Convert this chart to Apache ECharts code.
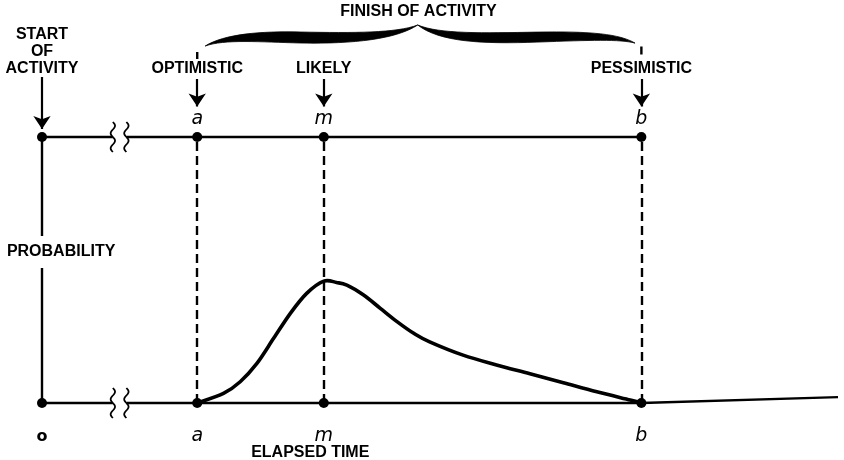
<!DOCTYPE html>
<html>
<head>
<meta charset="utf-8">
<script src="https://cdn.jsdelivr.net/npm/echarts@6/dist/echarts.min.js"></script>
<style>html,body{margin:0;background:#fff}#chart{width:844px;height:460px}</style>
</head>
<body>
<div id="chart"></div>
<script>
// events on the time axis: start, optimistic, likely, pessimistic
var eventNames = ['o', 'a', 'm', 'b'];
var eventTimes = [0, 19.5, 35.4, 75.3];
var estimateNames = ['OPTIMISTIC', 'LIKELY', 'PESSIMISTIC'];

// probability curve
var curveTime = [19.5, 22.8, 24.9, 27.0, 29.1, 31.2, 33.25, 35.4, 37.0, 38.3, 40.4, 42.5, 44.6, 46.7, 48.7, 52.9, 57.1, 61.3, 65.5, 69.7, 73.9, 75.3];
var curveProb = [0, 0.036, 0.080, 0.149, 0.243, 0.337, 0.412, 0.458, 0.453, 0.443, 0.406, 0.356, 0.306, 0.262, 0.230, 0.180, 0.143, 0.110, 0.076, 0.042, 0.011, 0];

var breakTimes = [8.9, 10.6];
var axisEnd = [100, 0.022];

var FONT = '"Liberation Sans", Arial, sans-serif';
var tA = eventTimes[1], tB = eventTimes[3];

var myChart = echarts.init(document.getElementById('chart'));

var curve = [];
for (var i = 0; i < curveTime.length; i++) {
    curve.push([curveTime[i], curveProb[i]]);
}

// solid axis lines (broken at the squiggles)
var solidLines = [
    {coords: [[0, 0], [breakTimes[0], 0]]},
    {coords: [[breakTimes[1], 0], [tB, 0], axisEnd]},
    {coords: [[0, 1], [breakTimes[0], 1]]},
    {coords: [[breakTimes[1], 1], [tB, 1]]},
    {coords: [[0, 0], [0, 1]]},
    {coords: [[tA, 1.29], [tA, 1.32]]},
    {coords: [[tB, 1.31], [tB, 1.34]]}
];

var dashedLines = [];
for (var i = 1; i < eventTimes.length; i++) {
    dashedLines.push({coords: [[eventTimes[i], 0], [eventTimes[i], 1]]});
}

var arrows = [{coords: [[0, 1.226], [0, 1.03]]}];
for (var i = 1; i < eventTimes.length; i++) {
    arrows.push({coords: [[eventTimes[i], 1.226], [eventTimes[i], 1.115]]});
}

var dots = [];
for (var i = 0; i < eventTimes.length; i++) {
    dots.push([eventTimes[i], 0]);
    dots.push([eventTimes[i], 1]);
}

var capsLabels = [
    {value: [0, 1.32], label: {formatter: 'START\nOF\nACTIVITY', lineHeight: 17}},
    {value: [2.4, 0.568], label: {formatter: 'PROBABILITY', backgroundColor: '#fff', padding: [8, 0]}},
    {value: [33.7, -0.186], label: {formatter: 'ELAPSED TIME'}},
    {value: [47.3, 1.47], label: {formatter: 'FINISH OF ACTIVITY'}}
];
for (var i = 0; i < estimateNames.length; i++) {
    capsLabels.push({value: [eventTimes[i + 1], 1.256], label: {formatter: estimateNames[i], backgroundColor: '#fff', padding: [2, 0]}});
}

var letterLabels = [];
for (var i = 1; i < eventNames.length; i++) {
    letterLabels.push({value: [eventTimes[i], 1.068], label: {formatter: eventNames[i]}});
    letterLabels.push({value: [eventTimes[i], -0.126], label: {formatter: eventNames[i]}});
}
letterLabels.push({value: [0, -0.126], label: {formatter: eventNames[0], fontStyle: 'normal', fontWeight: 'bold', fontSize: 16}});

// catmull-rom spline through the curve points
function renderCurve(params, api) {
    var pts = [];
    for (var i = 0; i < curve.length; i++) pts.push(api.coord(curve[i]));
    var d = 'M ' + pts[0][0] + ' ' + pts[0][1];
    for (var i = 0; i < pts.length - 1; i++) {
        var p0 = pts[i - 1] || pts[i], p1 = pts[i], p2 = pts[i + 1], p3 = pts[i + 2] || pts[i + 1];
        d += ' C ' + (p1[0] + (p2[0] - p0[0]) / 6) + ' ' + (p1[1] + (p2[1] - p0[1]) / 6) +
            ' ' + (p2[0] - (p3[0] - p1[0]) / 6) + ' ' + (p2[1] - (p3[1] - p1[1]) / 6) +
            ' ' + p2[0] + ' ' + p2[1];
    }
    return {type: 'path', shape: {pathData: d}, style: {fill: null, stroke: '#000', lineWidth: 3.6, lineJoin: 'round'}};
}

function renderBreak(params, api) {
    var c = api.coord([api.value(0), api.value(1)]);
    var pts = [];
    for (var k = 0; k <= 30; k++) {
        var dy = k - 15;
        pts.push([c[0] + 2.2 * Math.sin(dy / 15 * Math.PI * 2), c[1] + dy]);
    }
    return {type: 'polyline', shape: {points: pts}, style: {stroke: '#000', lineWidth: 1.8, fill: null}};
}

function renderBrace(params, api) {
    var pL = api.coord([api.value(0), api.value(1)]);
    var pT = api.coord([api.value(2), api.value(3)]);
    var pR = api.coord([api.value(4), api.value(5)]);
    function lx(f) { return pL[0] + f * (pT[0] - pL[0]); }
    function rx(f) { return pT[0] + f * (pR[0] - pT[0]); }
    var B = pL[1], T = pT[1], R = pR[1];
    var d = ['M', lx(0), B,
        'C', lx(.09), B - 12, lx(.26), B - 15, lx(.45), B - 14,
        'C', lx(.7), B - 13, lx(.9), B - 13, lx(1), T,
        'C', lx(.9), B - 7, lx(.7), B - 2, lx(.45), B - 3,
        'C', lx(.26), B - 4, lx(.09), B - 7, lx(0), B, 'Z',
        'M', rx(0), T,
        'C', rx(.1), R - 9, rx(.3), R - 10, rx(.55), R - 11,
        'C', rx(.8), R - 12, rx(.93), R - 9, rx(1), R,
        'C', rx(.93), R - 4, rx(.8), R - 3, rx(.55), R - 1,
        'C', rx(.3), R + 1, rx(.1), R - 1, rx(0), T, 'Z'].join(' ');
    return {type: 'path', shape: {pathData: d}, style: {fill: '#000', stroke: '#000', lineWidth: 0.8}};
}

var option = {
    backgroundColor: '#fff',
    animation: false,
    grid: {left: 2.2, right: 6, top: 4, bottom: 3.8},
    xAxis: {type: 'value', min: -5, max: 100, show: false},
    yAxis: {type: 'value', min: -0.2, max: 1.5, show: false},
    series: [
        {
            type: 'lines', coordinateSystem: 'cartesian2d', polyline: true,
            data: solidLines, symbol: 'none',
            lineStyle: {color: '#000', width: 2.4, opacity: 1}, z: 2
        },
        {
            type: 'lines', coordinateSystem: 'cartesian2d',
            data: dashedLines, symbol: 'none',
            lineStyle: {color: '#000', width: 2.4, type: [9, 5], opacity: 1}, z: 2
        },
        {
            type: 'lines', coordinateSystem: 'cartesian2d',
            data: arrows, symbol: ['none', 'arrow'], symbolSize: [8, 13],
            lineStyle: {color: '#000', width: 2.2, opacity: 1}, z: 4
        },
        {
            type: 'custom', renderItem: renderCurve, clip: false,
            data: [curve[0]], z: 3
        },
        {
            type: 'custom', renderItem: renderBreak, clip: false,
            data: [[breakTimes[0], 0], [breakTimes[1], 0], [breakTimes[0], 1], [breakTimes[1], 1]], z: 3
        },
        {
            type: 'custom', renderItem: renderBrace, clip: false,
            dimensions: ['x', 'y', 'tx', 'ty', 'rx', 'ry'],
            encode: {x: 0, y: 1},
            data: [[20.5, 1.342, 47.2, 1.421, 74.5, 1.353]], z: 3
        },
        {
            type: 'scatter', data: dots, symbolSize: 10, clip: false,
            itemStyle: {color: '#000', opacity: 1}, z: 5
        },
        {
            type: 'scatter', data: capsLabels, symbolSize: 0, clip: false, silent: true,
            itemStyle: {opacity: 1},
            label: {show: true, position: 'inside', color: '#000', fontFamily: FONT, fontWeight: 'bold', fontSize: 16, align: 'center', verticalAlign: 'middle'},
            z: 6
        },
        {
            type: 'scatter', data: letterLabels, symbolSize: 0, clip: false, silent: true,
            itemStyle: {opacity: 1},
            label: {show: true, position: 'inside', color: '#000', fontFamily: '"DejaVu Sans", sans-serif', fontStyle: 'italic', fontSize: 19, align: 'center', verticalAlign: 'middle'},
            z: 6
        }
    ]
};
myChart.setOption(option);
</script>
</body>
</html>
